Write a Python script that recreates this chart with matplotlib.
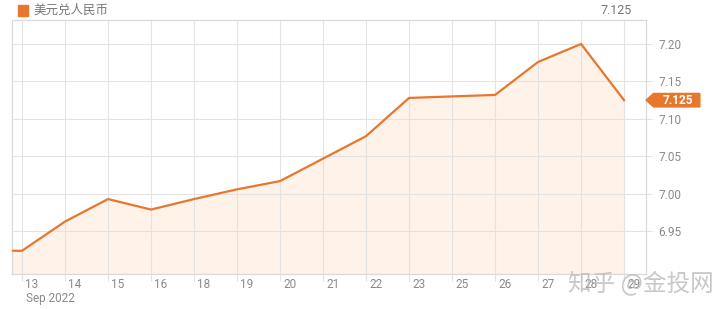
import matplotlib
matplotlib.use('Agg')
from matplotlib import pyplot as plt
from matplotlib.patches import Polygon

plt.rcParams['font.family'] = ['Noto Sans CJK SC', 'DejaVu Sans']

days = ['13', '14', '15', '16', '18', '19', '20', '21', '22', '23', '25', '26', '27', '28', '29']
rates = [6.924, 6.963, 6.993, 6.979, 6.993, 7.006, 7.017, 7.047, 7.077, 7.128, 7.130, 7.132, 7.176, 7.200, 7.125]
prev_rate = 6.924
yticks = [6.95, 7.00, 7.05, 7.10, 7.15, 7.20]
last_label = '7.125'

line_color = '#E8772E'
fill_color = '#FEF2E9'
text_gray = '#8a8a8a'
grid_gray = '#e3e3e3'

fig = plt.figure(figsize=(7.2, 3.09), dpi=100)
ax = fig.add_axes([12 / 720, 1 - 274 / 309, (646 - 12) / 720, (274 - 20) / 309])

xs = [-1] + list(range(len(days)))
ys = [prev_rate] + rates
ax.fill_between(xs, ys, 6.0, color=fill_color, zorder=1)
ax.plot(xs, ys, color=line_color, lw=1.6, zorder=3)

ax.set_xlim(-0.233, 14.51)
ax.set_ylim(6.893, 7.232)

ax.set_xticks(range(len(days)))
ax.set_xticklabels([])
xt = ax.get_xaxis_transform()
for i, d in enumerate(days):
    ax.text(i + 0.23, -0.015, d, transform=xt, ha='center', va='top',
            fontsize=8.5, color=text_gray, family=['Roboto', 'DejaVu Sans'])
ax.text(0.1, -0.07, 'Sep 2022', transform=xt, ha='left', va='top',
        fontsize=8.5, color=text_gray, family=['Roboto', 'DejaVu Sans'])

ax.yaxis.tick_right()
ax.set_yticks(yticks)
ax.set_yticklabels(['%.2f' % v for v in yticks], fontsize=8.5, color=text_gray, family=['Roboto', 'DejaVu Sans'])
ax.tick_params(axis='y', length=4, color=grid_gray, pad=5)
ax.tick_params(axis='x', length=5, color=grid_gray, direction='out')

ax.grid(True, color=grid_gray, lw=0.8, zorder=0)
for s in ax.spines.values():
    s.set_color('#d9d9d9')
    s.set_linewidth(0.9)

# price tag on right axis
trans = ax.get_yaxis_transform()
yv = rates[-1]
tag = Polygon([[1.0, yv], [1.012, yv + 0.009], [1.085, yv + 0.009], [1.085, yv - 0.009], [1.012, yv - 0.009]],
              closed=True, transform=trans, color=line_color, clip_on=False, zorder=5)
ax.add_patch(tag)
ax.text(1.05, yv, last_label, transform=trans, ha='center', va='center', color='white',
        fontsize=8.5, fontweight='bold', family=['Roboto', 'DejaVu Sans'], zorder=6)

# header
fig.patches.append(plt.Rectangle((18 / 720, 1 - 16 / 309), 10 / 720, 11 / 309, transform=fig.transFigure,
                                 color=line_color))
fig.text(33 / 720, 1 - 10 / 309, '美元兑人民币', ha='left', va='center', fontsize=9, color='#777777')
fig.text(632 / 720, 1 - 10 / 309, last_label, ha='right', va='center', fontsize=9, color='#777777',
         family=['Roboto', 'DejaVu Sans'])

# watermark
fig.text(641 / 720, 1 - 283 / 309, '知乎 @金投网', ha='center', va='center', fontsize=17,
         color='#bbbbbb', alpha=0.8)

fig.savefig('out.png', dpi=100)
